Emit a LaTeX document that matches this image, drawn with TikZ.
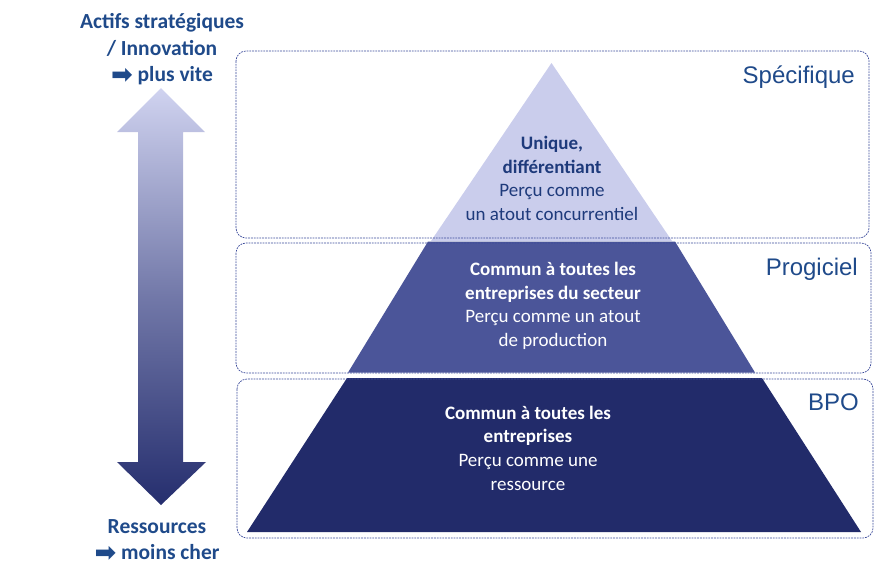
\documentclass[tikz,border=0pt]{standalone}
\usepackage{fontspec}
\setmainfont{Carlito}
\newfontfamily\arialfont{Liberation Sans}
\newfontfamily\dejavufont{DejaVu Sans}
\definecolor{lefttxt}{HTML}{1F4A8A}
\definecolor{toptxt}{HTML}{1E3A7B}
\definecolor{lvlA}{HTML}{CACDEC}
\definecolor{lvlB}{HTML}{4B5599}
\definecolor{lvlC}{HTML}{222B6A}
\definecolor{boxline}{HTML}{3A4A9A}
\definecolor{arrowtop}{HTML}{D0D3F0}
\definecolor{arrowbot}{HTML}{252E6E}
\tikzset{
  zonebox/.style={draw=boxline, line width=0.7pt, dash pattern=on 1.8pt off 1pt, rounded corners=10pt},
  pyrtxt/.style={align=center, inner sep=0pt, font=\fontsize{19}{23.6}\selectfont},
  sidetxt/.style={align=center, inner sep=0pt, text=lefttxt, font=\fontsize{21.5}{26.5}\selectfont\bfseries},
  lvllabel/.style={anchor=base east, inner sep=0pt, text=lefttxt, font=\arialfont\fontsize{24}{28}\selectfont}
}
\newcommand{\myarrowglyph}{\smash{\raisebox{-1.5pt}{\dejavufont\fontsize{26}{26}\selectfont\char"27A1}}}
\begin{document}
\begin{tikzpicture}[x=1pt,y=-1pt]
\useasboundingbox (0,0) rectangle (877,571);
% left double arrow
\shade[top color=arrowtop, bottom color=arrowbot, middle color=arrowtop!45!arrowbot]
  (161,88) -- (205,132) -- (183,132) -- (183,462) -- (206,462) -- (161,505)
  -- (117,462) -- (138,462) -- (138,132) -- (117,132) -- cycle;
% pyramid layers
\fill[lvlA] (551.5,63) -- (672,241) -- (431,241) -- cycle;
\fill[lvlB] (428,241.5) -- (675,241.5) -- (755,372.5) -- (348,372.5) -- cycle;
\fill[lvlC] (347,378) -- (762,378) -- (861,532) -- (247,532) -- cycle;
% zone boxes
\draw[zonebox] (236,51) rectangle (869,238);
\draw[zonebox] (236,243) rectangle (871,373);
\draw[zonebox] (237,379) rectangle (873,538);
% level labels
\node[lvllabel] (spec) at (855,83) {Spécifique};
\node[lvllabel] (prog) at (858,275) {Progiciel};
\node[lvllabel] (bpo) at (859,410.5) {BPO};
% pyramid texts
\node[pyrtxt, text=toptxt] (tA) at (552,178.5) {\textbf{Unique,}\\\textbf{différentiant}\\Perçu comme\\un atout concurrentiel};
\node[pyrtxt, text=white] (tB) at (553,306) {\textbf{Commun à toutes les}\\\textbf{entreprises du secteur}\\Perçu comme un atout\\de production};
\node[pyrtxt, text=white] (tC) at (528,448) {\textbf{Commun à toutes les}\\\textbf{entreprises}\\Perçu comme une\\ressource};
% side texts
\node[sidetxt] (up) at (162,49.5) {Actifs stratégiques\\/ Innovation\\\myarrowglyph{} plus vite};
\node[sidetxt] (down) at (157,539.5) {Ressources\\\myarrowglyph{} moins cher};
\end{tikzpicture}
\end{document}
